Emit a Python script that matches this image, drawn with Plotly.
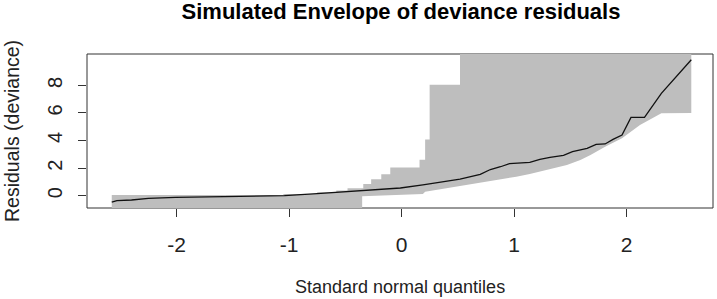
import plotly.graph_objects as go

# Upper envelope (step vertices, left to right)
upper_x = [-2.576, -1.05, -1.05, -0.75, -0.75, -0.58, -0.58, -0.48, -0.48, -0.34, -0.34,
           -0.27, -0.27, -0.18, -0.18, -0.10, -0.10, 0.16, 0.16, 0.21, 0.21, 0.25, 0.25,
           0.52, 0.52, 2.576]
upper_y = [0.05, 0.05, 0.12, 0.12, 0.25, 0.25, 0.38, 0.38, 0.55, 0.55, 0.85,
           0.85, 1.2, 1.2, 1.55, 1.55, 2.05, 2.05, 2.6, 2.6, 4.08, 4.08, 8.05,
           8.05, 14.0, 14.0]

# Lower envelope (left to right)
lower_x = [-2.576, -0.35, -0.35, -0.05, 0.19, 0.21, 0.49, 0.70, 0.88, 1.02, 1.14,
           1.29, 1.47, 1.59, 1.68, 1.81, 1.96, 2.12, 2.31, 2.576]
lower_y = [-1.6, -1.6, -0.03, 0.08, 0.12, 0.29, 0.65, 0.95, 1.18, 1.38, 1.57,
           1.86, 2.22, 2.59, 2.95, 3.55, 4.16, 5.12, 5.97, 6.0]

# Observed deviance residuals vs. normal quantiles
res_x = [-2.576, -2.53, -2.40, -2.25, -2.01, -1.5, -1.04, -0.75, -0.55, -0.34, -0.19,
         -0.01, 0.19, 0.37, 0.52, 0.70, 0.79, 0.88, 0.96, 1.14, 1.23, 1.32, 1.44,
         1.52, 1.65, 1.73, 1.81, 1.88, 1.96, 2.04, 2.16, 2.31, 2.42, 2.576]
res_y = [-0.47, -0.36, -0.31, -0.19, -0.12, -0.05, 0.0, 0.15, 0.27, 0.38, 0.48,
         0.56, 0.78, 1.0, 1.2, 1.55, 1.9, 2.1, 2.33, 2.42, 2.64, 2.78, 2.93,
         3.19, 3.43, 3.72, 3.75, 4.08, 4.4, 5.68, 5.68, 7.42, 8.43, 9.85]

x_ticks = [-2, -1, 0, 1, 2]
y_ticks = [0, 2, 4, 6, 8]

FONT = "Liberation Sans, Arial, sans-serif"

fig = go.Figure()
fig.add_trace(go.Scatter(
    x=lower_x + upper_x[::-1], y=lower_y + upper_y[::-1],
    fill="toself", fillcolor="#BEBEBE", mode="lines", line=dict(width=0, color="#BEBEBE"),
    hoverinfo="skip", showlegend=False))
fig.add_trace(go.Scatter(
    x=res_x, y=res_y, mode="lines", line=dict(color="#111", width=1.3),
    showlegend=False))

fig.update_layout(
    template="none",
    width=717, height=299,
    margin=dict(l=87, r=4, t=54, b=91, autoexpand=False),
    paper_bgcolor="white", plot_bgcolor="white",
    font=dict(family=FONT, color="black"),
    title=dict(text="<b>Simulated Envelope of deviance residuals</b>",
               x=401 / 717, xanchor="center", y=1 - 11 / 299, yanchor="middle", yref="container",
               font=dict(size=22, family=FONT, color="black")),
    shapes=[dict(type="rect", xref="paper", yref="paper", x0=0, x1=1, y0=0, y1=1,
                 line=dict(color="#333333", width=1), layer="below")],
    annotations=[
        dict(text="Standard normal quantiles", xref="paper", yref="paper", x=0.5, y=0,
             xanchor="center", yanchor="middle", yshift=-79, showarrow=False,
             font=dict(size=18, family=FONT, color="#222")),
        dict(text="Residuals (deviance)", xref="paper", yref="paper", x=0, y=0.5,
             xanchor="center", yanchor="middle", xshift=-75, textangle=-90, showarrow=False,
             font=dict(size=19.5, family=FONT, color="#222")),
    ],
)
fig.update_xaxes(range=[-2.796, 2.769], tickvals=x_ticks, ticktext=[str(v) for v in x_ticks],
                 ticks="outside", ticklen=8, tickcolor="#333", showgrid=False, zeroline=False,
                 showline=False, ticklabelstandoff=10, automargin=False,
                 tickfont=dict(size=21, family=FONT, color="#222"))
fig.update_yaxes(range=[-0.89, 10.27], tickvals=y_ticks, ticktext=[str(v) for v in y_ticks],
                 ticks="outside", ticklen=8, tickcolor="#333", showgrid=False, zeroline=False,
                 showline=False, tickangle=-90, ticklabelstandoff=8, automargin=False,
                 tickfont=dict(size=20, family=FONT, color="#222"))

fig.write_html("out.html", config={"displayModeBar": False},
               post_script="document.body.style.margin='0px';")
